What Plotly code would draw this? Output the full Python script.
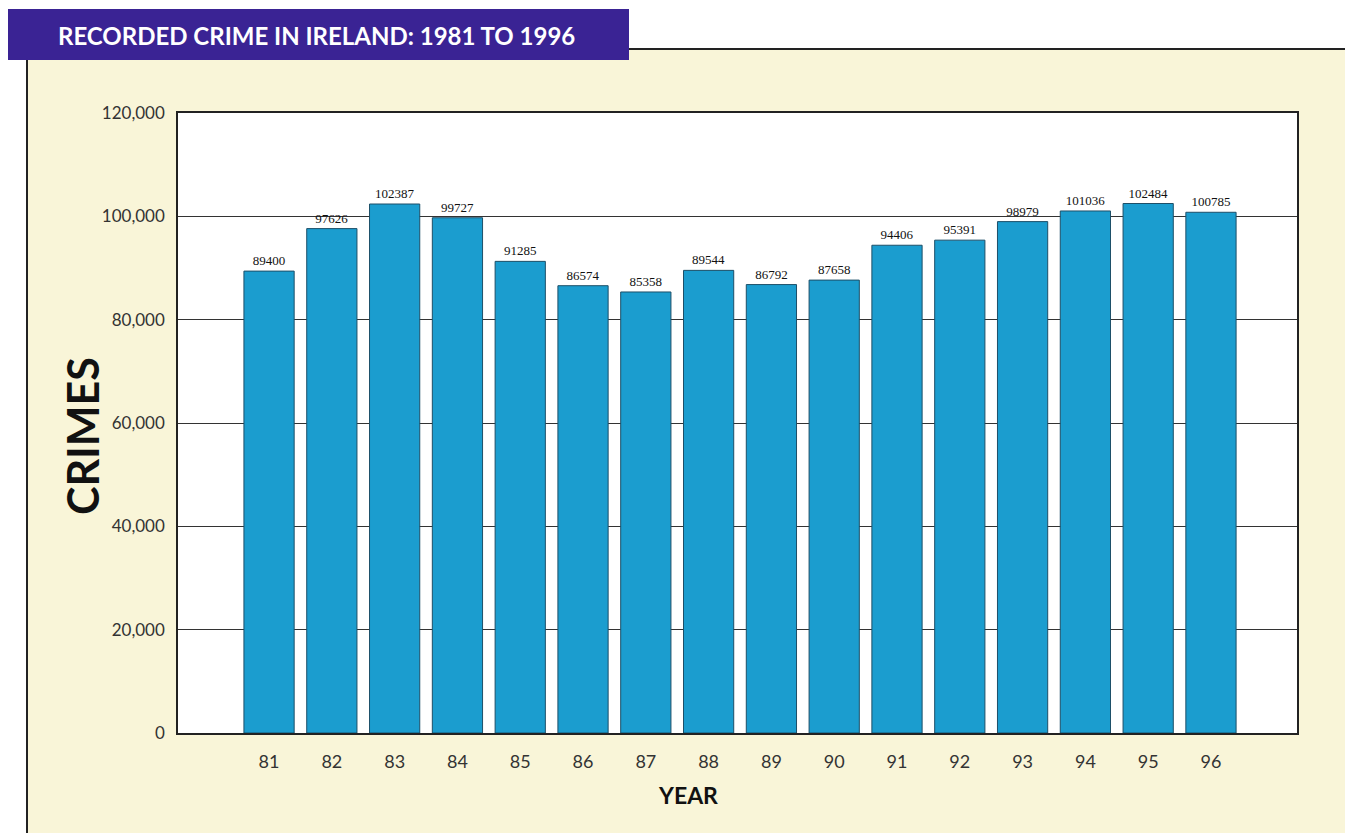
import plotly.graph_objects as go

years = ["81", "82", "83", "84", "85", "86", "87", "88", "89", "90", "91", "92", "93", "94", "95", "96"]
crimes = [89400, 97626, 102387, 99727, 91285, 86574, 85358, 89544, 86792, 87658,
          94406, 95391, 98979, 101036, 102484, 100785]
y_ticks = [0, 20000, 40000, 60000, 80000, 100000, 120000]
y_tick_text = ["0", "20,000", "40,000", "60,000", "80,000", "100,000", "120,000"]
title_text = "RECORDED CRIME IN IRELAND: 1981 TO 1996"

CREAM = "#f9f5d8"
BAR = "#1b9dcf"

fig = go.Figure()
fig.add_trace(go.Bar(
    x=years, y=crimes,
    width=0.8,
    marker=dict(color=BAR, line=dict(color="#1d4f68", width=1)),
    text=[str(v) for v in crimes],
    textposition="outside",
    textfont=dict(family="Liberation Serif", size=13, color="#111"),
    cliponaxis=False,
))

# page body adds an 8px offset; work in screen coordinates
OFF = 8
FW, FH = 1353 - OFF, 833 - OFF
L, T = 178 - OFF, 113 - OFF
PB, PR = 733 - OFF, 1297 - OFF
R, B = FW - PR, FH - PB
W, H = PR - L, PB - T


def px(x):
    return (x - OFF - L) / W


def py(y):
    return (PB - (y - OFF)) / H


shapes = [
    dict(type="rect", xref="paper", yref="paper", x0=px(-20), x1=px(27), y0=py(850), y1=py(-20),
         fillcolor="white", line=dict(width=0), layer="below"),
    dict(type="rect", xref="paper", yref="paper", x0=px(-20), x1=px(1370), y0=py(49), y1=py(-20),
         fillcolor="white", line=dict(width=0), layer="below"),
    dict(type="rect", xref="paper", yref="paper", x0=px(1347), x1=px(1370), y0=py(850), y1=py(-20),
         fillcolor="white", line=dict(width=0), layer="below"),
    dict(type="line", xref="paper", yref="paper", x0=px(27), x1=px(27), y0=py(49), y1=py(850),
         line=dict(color="#222", width=2)),
    dict(type="line", xref="paper", yref="paper", x0=px(27), x1=px(1347), y0=py(49), y1=py(49),
         line=dict(color="#222", width=2)),
    dict(type="line", xref="paper", yref="paper", x0=px(1347), x1=px(1347), y0=py(49), y1=py(850),
         line=dict(color="#222", width=2)),
    dict(type="rect", xref="paper", yref="paper", x0=px(3), x1=px(629), y0=py(60), y1=py(9),
         fillcolor="#3a2394", line=dict(width=0), layer="above"),
]

annotations = [
    dict(text=title_text, xref="paper", yref="paper", x=px(316), y=py(35),
         showarrow=False, xanchor="center", yanchor="middle",
         font=dict(family="Lato", size=24, color="white", weight="bold")),
    dict(text="<b>CRIMES</b>", xref="paper", yref="paper", x=px(82), y=py(436),
         showarrow=False, xanchor="center", yanchor="middle", textangle=-90,
         font=dict(family="Lato", size=43, color="#111")),
    dict(text="<b>YEAR</b>", xref="paper", yref="paper", x=px(688), y=py(795),
         showarrow=False, xanchor="center", yanchor="middle",
         font=dict(family="Lato", size=23, color="#111")),
]

fig.update_layout(
    width=FW, height=FH,
    margin=dict(l=L, r=R, t=T, b=B, pad=0),
    paper_bgcolor=CREAM,
    plot_bgcolor="white",
    showlegend=False,
    shapes=shapes,
    annotations=annotations,
)
fig.update_xaxes(
    type="category",
    range=[-1.45, 16.37],
    showgrid=False,
    showline=True, linecolor="#222", linewidth=1.5, mirror=True,
    ticks="", ticklabelstandoff=12,
    tickfont=dict(family="Lato", size=18, color="#333"),
)
fig.update_yaxes(
    range=[0, 120000],
    tickmode="array", tickvals=y_ticks, ticktext=y_tick_text,
    showgrid=True, gridcolor="#333", gridwidth=1,
    showline=True, linecolor="#222", linewidth=1.5, mirror=True,
    zeroline=False,
    ticks="", ticklabelstandoff=8,
    tickfont=dict(family="Lato", size=17, color="#333"),
)

fig.write_html("out.html")
